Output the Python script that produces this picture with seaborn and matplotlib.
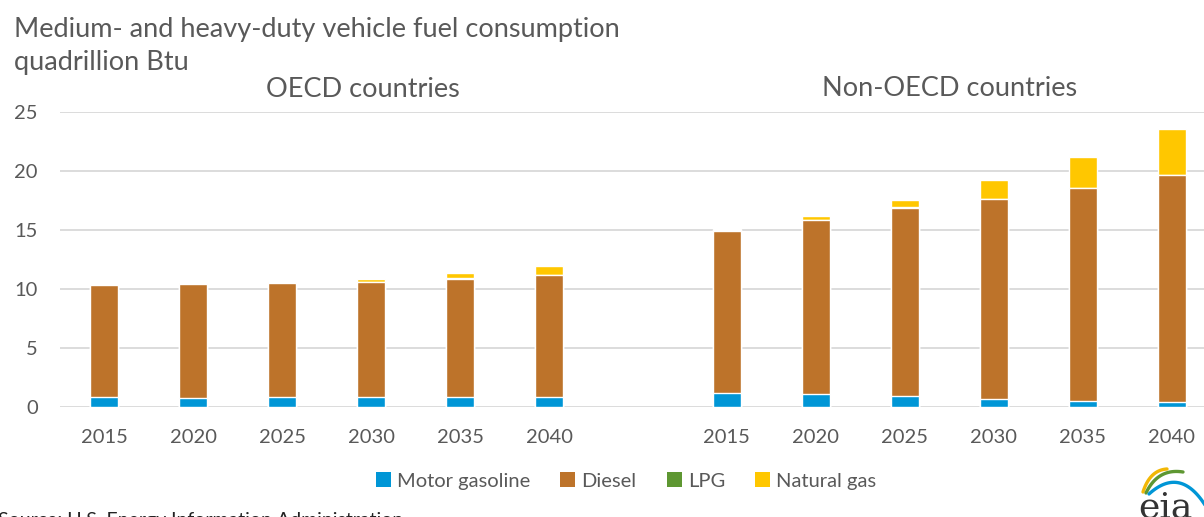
import numpy as np
import pandas as pd
import matplotlib
matplotlib.use("Agg")
import matplotlib.pyplot as plt
from matplotlib.patches import Patch
import seaborn as sb

# values (quadrillion Btu)
years = ["2015", "2020", "2025", "2030", "2035", "2040"]
regions = ["OECD", "Non-OECD"]
gasoline_oecd = [0.86, 0.80, 0.82, 0.82, 0.82, 0.82]
diesel_oecd = [9.46, 9.60, 9.70, 9.78, 10.05, 10.37]
lpg_oecd = [0.03, 0.03, 0.03, 0.03, 0.03, 0.03]
natgas_oecd = [0.03, 0.11, 0.08, 0.22, 0.46, 0.76]
gasoline_non = [1.22, 1.13, 0.96, 0.71, 0.51, 0.42]
diesel_non = [13.71, 14.68, 15.92, 16.88, 18.02, 19.21]
lpg_non = [0.03, 0.05, 0.03, 0.03, 0.03, 0.03]
natgas_non = [0.11, 0.34, 0.65, 1.58, 2.66, 3.91]

fuels = ["Motor gasoline", "Diesel", "LPG", "Natural gas"]
colors = {"Motor gasoline": "#0096D6", "Diesel": "#BD732A",
          "LPG": "#5E9732", "Natural gas": "#FFC700"}
text_col = "#595959"

W, H = 1204, 517

rows = []
for reg, g, d, l, n in [("OECD", gasoline_oecd, diesel_oecd, lpg_oecd, natgas_oecd),
                        ("Non-OECD", gasoline_non, diesel_non, lpg_non, natgas_non)]:
    for i, y in enumerate(years):
        rows.append({"slot": reg + " " + y, "Motor gasoline": g[i], "Diesel": d[i],
                     "LPG": l[i], "Natural gas": n[i]})
df = pd.DataFrame(rows)
# stacked tops
df["top_gas"] = df["Motor gasoline"]
df["top_dies"] = df["top_gas"] + df["Diesel"]
df["top_lpg"] = df["top_dies"] + df["LPG"]
df["top_ng"] = df["top_lpg"] + df["Natural gas"]

# one empty slot between the two regions
order = ["OECD " + y for y in years] + ["gap"] + ["Non-OECD " + y for y in years]

sb.set_theme(style="white")
plt.rcParams["font.family"] = ["Lato", "DejaVu Sans"]

fig = plt.figure(figsize=(W / 100, H / 100), dpi=100)
ax = fig.add_axes([60 / W, 110 / H, 1156 / W, 295 / H])

for col, fuel in [("top_ng", "Natural gas"), ("top_lpg", "LPG"),
                  ("top_dies", "Diesel"), ("top_gas", "Motor gasoline")]:
    sb.barplot(data=df, x="slot", y=col, order=order, color=colors[fuel],
               width=0.315, errorbar=None, saturation=1, ax=ax, zorder=3)

ax.set_xlim(-0.5, 12.5)
ax.set_ylim(0, 25)
ax.set_yticks(np.arange(0, 26, 5))
ax.yaxis.grid(True, color="#D9D9D9", linewidth=1.3, zorder=0)
ax.set_axisbelow(True)
for s in ax.spines.values():
    s.set_visible(False)
ax.set_xlabel("")
ax.set_ylabel("")
ax.set_xticks(range(13))
ax.set_xticklabels(years + [""] + years)
ax.tick_params(axis="x", length=0, pad=16, labelsize=14.5, labelcolor=text_col)
ax.tick_params(axis="y", length=0, pad=16, labelsize=14.5, labelcolor=text_col)


def ftext(x, y, s, **kw):
    fig.text(x / W, 1 - y / H, s, **kw)


ftext(14, 37, "Medium- and heavy-duty vehicle fuel consumption", fontsize=19.5,
      color=text_col, va="baseline", ha="left")
ftext(14, 70, "quadrillion Btu", fontsize=19.5, color=text_col, va="baseline", ha="left")
ftext(363, 97, "OECD countries", fontsize=19.5, color=text_col, va="baseline", ha="center")
ftext(950, 96, "Non-OECD countries", fontsize=19.5, color=text_col, va="baseline", ha="center")
ftext(-2, 512, "Source: U.S. Energy Information Administration", fontsize=14,
      color="#222222", va="top", ha="left")

handles = [Patch(facecolor=colors[f], edgecolor="none", label=f) for f in fuels]
fig.legend(handles=handles, loc="center", bbox_to_anchor=(626 / W, 1 - 481 / H),
           ncol=4, frameon=False, fontsize=14.5, labelcolor=text_col,
           handlelength=0.75, handleheight=0.75, handletextpad=0.3, columnspacing=1.5)

# eia logo, drawn roughly in pixel coordinates of its corner
lax = fig.add_axes([1124 / W, 0, 80 / W, 60 / H])
lax.set_xlim(1124, 1204)
lax.set_ylim(517, 457)
lax.axis("off")
t = np.linspace(0, 1, 40)[:, None]
for p0, c, p2, colr in [((1143, 492), (1150, 470), (1167, 469), "#F2B705"),
                        ((1146, 493), (1158, 468), (1183, 472), "#5E9732"),
                        ((1149, 494), (1180, 466), (1205, 505), "#0096D6")]:
    p0, c, p2 = np.array(p0), np.array(c), np.array(p2)
    pts = (1 - t) ** 2 * p0 + 2 * (1 - t) * t * c + t ** 2 * p2
    lax.plot(pts[:, 0], pts[:, 1], color=colr, lw=2.4, solid_capstyle="round")
lax.text(1165, 518, "eia", fontsize=26, family="DejaVu Serif", color="#333333",
         ha="center", va="baseline")

fig.savefig("out.png", dpi=100)
